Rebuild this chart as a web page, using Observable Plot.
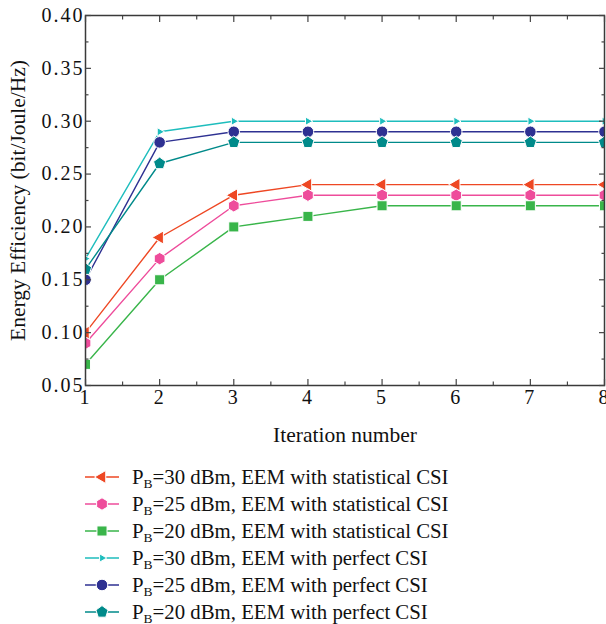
<!DOCTYPE html>
<html><head><meta charset="utf-8">
<script src="https://cdn.jsdelivr.net/npm/d3@7"></script>
<script src="https://cdn.jsdelivr.net/npm/@observablehq/plot@0.6"></script>
<style>
body{margin:0;background:#fff;font-family:"Liberation Serif",serif;color:#111;}
#chart svg{display:block;}
#chart g[aria-label="x-axis tick label"] text,
#chart g[aria-label="y-axis tick label"] text{font-size:20px;letter-spacing:2px;}
#chart g[aria-label="x-axis label"] text,
#chart g[aria-label="y-axis label"] text{font-size:21.5px;}
#legend{margin-top:13px;padding-left:84px;}
.row{height:27px;display:flex;align-items:center;font-size:20.8px;white-space:nowrap;}
.row svg{flex:none;margin-right:12px;}
.row sub{font-size:13.5px;vertical-align:-4px;line-height:0;}
</style></head><body>
<div id="chart"></div>
<div id="legend"></div>
<script>
const iterations = [1, 2, 3, 4, 5, 6, 7, 8];
const stat30 = [0.10, 0.19, 0.23, 0.24, 0.24, 0.24, 0.24, 0.24];
const stat25 = [0.09, 0.17, 0.22, 0.23, 0.23, 0.23, 0.23, 0.23];
const stat20 = [0.07, 0.15, 0.20, 0.21, 0.22, 0.22, 0.22, 0.22];
const perf30 = [0.17, 0.29, 0.30, 0.30, 0.30, 0.30, 0.30, 0.30];
const perf25 = [0.15, 0.28, 0.29, 0.29, 0.29, 0.29, 0.29, 0.29];
const perf20 = [0.16, 0.26, 0.28, 0.28, 0.28, 0.28, 0.28, 0.28];
const powers = ["30", "25", "20", "30", "25", "20"];
const csiTypes = ["statistical", "statistical", "statistical", "perfect", "perfect", "perfect"];
const colors = ["#ee4723", "#ee4c9b", "#39b54a", "#1ebdbd", "#2e3192", "#008a8a"];
const xMajor = [1, 2, 3, 4, 5, 6, 7, 8];
const xMinor = [1.5, 2.5, 3.5, 4.5, 5.5, 6.5, 7.5];
const yMajor = [0.05, 0.10, 0.15, 0.20, 0.25, 0.30, 0.35, 0.40];
const yMinor = [0.075, 0.125, 0.175, 0.225, 0.275, 0.325, 0.375];

function poly(ctx, R, startDeg, n) {
  for (let k = 0; k < n; k++) {
    const a = (startDeg + 360 * k / n) * Math.PI / 180;
    const px = R * Math.cos(a), py = R * Math.sin(a);
    k === 0 ? ctx.moveTo(px, py) : ctx.lineTo(px, py);
  }
  ctx.closePath();
}
const R = s => Math.sqrt(s / Math.PI);
const symLeft = {draw(ctx, s) { poly(ctx, R(s), 180, 3); }};
const symRight = {draw(ctx, s) { poly(ctx, R(s), 0, 3); }};
const symHex = {draw(ctx, s) { poly(ctx, R(s), -90, 6); }};
const symSquare = {draw(ctx, s) { const h = R(s) * 0.9; ctx.rect(-h, -h, 2 * h, 2 * h); }};
const symCircle = {draw(ctx, s) { const r = R(s); ctx.moveTo(r, 0); ctx.arc(0, 0, r, 0, 2 * Math.PI); }};
const symPent = {draw(ctx, s) { poly(ctx, R(s), -90, 5); }};
const symbols = [symLeft, symHex, symSquare, symRight, symCircle, symPent];
const sizes = [7.5, 6.2, 5.6, 4.8, 5.8, 6.4];

const seriesVals = [stat30, stat25, stat20, perf30, perf25, perf20];
const tables = seriesVals.map(vals => iterations.map((x, i) => ({x, y: vals[i]})));

const marks = [];
tables.forEach((t, i) => {
  marks.push(Plot.line(t, {x: "x", y: "y", stroke: colors[i], strokeWidth: 1.4, clip: true}));
});
tables.forEach((t, i) => {
  marks.push(Plot.dot(t, {x: "x", y: "y", fill: colors[i], stroke: "white", strokeWidth: 1, r: sizes[i], symbol: symbols[i], clip: true}));
});
const tickStroke = "#444";
marks.push(
  Plot.frame({stroke: "#3a3a3a", strokeWidth: 1.5}),
  Plot.axisX(xMajor, {anchor: "bottom", tickSize: 0, tickPadding: 4, label: "Iteration number", labelAnchor: "center", labelOffset: 56, labelArrow: "none"}),
  Plot.axisX(xMajor, {anchor: "bottom", tickSize: -6, tickFormat: () => "", label: null, stroke: tickStroke, strokeWidth: 1.2}),
  Plot.axisX(xMinor, {anchor: "bottom", tickSize: -3.5, tickFormat: () => "", label: null, stroke: tickStroke, strokeWidth: 1.2}),
  Plot.axisX(xMajor, {anchor: "top", tickSize: -6, tickFormat: () => "", label: null, stroke: tickStroke, strokeWidth: 1.2}),
  Plot.axisX(xMinor, {anchor: "top", tickSize: -3.5, tickFormat: () => "", label: null, stroke: tickStroke, strokeWidth: 1.2}),
  Plot.axisY(yMajor, {anchor: "left", tickSize: 0, tickPadding: 1, tickFormat: d3.format(".2f"), label: "Energy Efficiency (bit/Joule/Hz)", labelAnchor: "center", labelOffset: 76, labelArrow: "none"}),
  Plot.axisY(yMajor, {anchor: "left", tickSize: -6, tickFormat: () => "", label: null, stroke: tickStroke, strokeWidth: 1.2}),
  Plot.axisY(yMinor, {anchor: "left", tickSize: -3.5, tickFormat: () => "", label: null, stroke: tickStroke, strokeWidth: 1.2}),
  Plot.axisY(yMajor, {anchor: "right", tickSize: -6, tickFormat: () => "", label: null, stroke: tickStroke, strokeWidth: 1.2}),
  Plot.axisY(yMinor, {anchor: "right", tickSize: -3.5, tickFormat: () => "", label: null, stroke: tickStroke, strokeWidth: 1.2})
);

const chart = Plot.plot({
  width: 606, height: 450,
  marginLeft: 85, marginRight: 2, marginTop: 15, marginBottom: 65,
  style: {fontFamily: '"Liberation Serif", serif', fontSize: "20px", color: "#111", background: "#fff"},
  x: {domain: [1, 8]},
  y: {domain: [0.05, 0.40]},
  marks
});
document.getElementById("chart").append(chart);

const legend = d3.select("#legend");
powers.forEach((p, i) => {
  const row = legend.append("div").attr("class", "row");
  const svg = row.append("svg").attr("width", 36).attr("height", 20);
  svg.append("line").attr("x1", 1).attr("x2", 35).attr("y1", 10).attr("y2", 10)
    .attr("stroke", colors[i]).attr("stroke-width", 1.4);
  const path = d3.path();
  const r = sizes[i];
  symbols[i].draw(path, Math.PI * r * r);
  svg.append("path").attr("d", path.toString()).attr("transform", "translate(18,10)")
    .attr("fill", colors[i]).attr("stroke", "white").attr("stroke-width", 1);
  row.append("span").html(`P<sub>B</sub>=${p} dBm, EEM with ${csiTypes[i]} CSI`);
});
</script>
</body></html>
